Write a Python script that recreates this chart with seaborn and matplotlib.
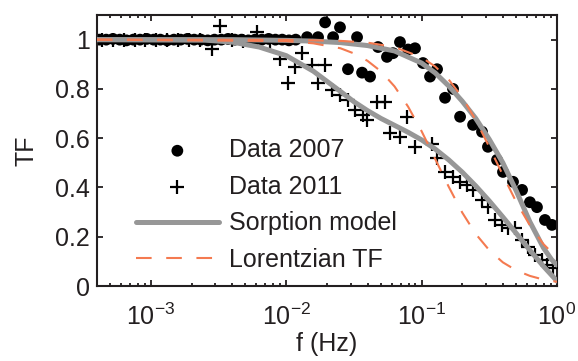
import numpy as np
import matplotlib
matplotlib.use('Agg')
from matplotlib import pyplot as plt
import seaborn as sns

# measured points, frequency stored as log10(f / Hz)
lf_2007 = [-3.38, -3.33, -3.28, -3.23, -3.18, -3.13, -3.08, -3.03, -2.98,
           -2.93, -2.88, -2.83, -2.78, -2.73, -2.68, -2.63, -2.58, -2.53,
           -2.48, -2.43, -2.38, -2.33, -2.28, -2.23, -2.18, -2.13, -2.08,
           -2.03, -1.98, -1.93,
           -1.846, -1.765, -1.713, -1.654, -1.603, -1.544, -1.477,
           -1.44, -1.381, -1.322, -1.256, -1.211, -1.16, -1.10, -1.049,
           -0.99, -0.938, -0.886, -0.827, -0.768, -0.716, -0.62, -0.554,
           -0.51, -0.443, -0.399, -0.325, -0.258, -0.2, -0.148, -0.089,
           -0.037]
tf_2007 = [1.0, 1.0, 1.003, 1.0, 0.997, 1.0, 1.0, 1.003, 1.0,
           1.0, 0.997, 1.0, 1.0, 1.003, 1.0, 1.0, 0.997, 1.0,
           1.0, 1.003, 1.0, 1.0, 0.997, 1.0, 1.0, 1.003, 1.0,
           1.0, 0.997, 1.0,
           1.01, 1.01, 1.07, 1.01, 1.05, 0.88, 1.01,
           0.866, 0.85, 0.97, 0.93, 0.945, 0.99, 0.96, 0.965,
           0.905, 0.85, 0.88, 0.764, 0.80, 0.687, 0.654, 0.626,
           0.565, 0.512, 0.463, 0.423, 0.39, 0.34, 0.32, 0.268,
           0.248]

lf_2011 = [-3.36, -3.28, -3.20, -3.12, -3.04, -2.96, -2.88, -2.80, -2.72,
           -2.64, -2.55, -2.49, -2.40, -2.32, -2.216, -2.12, -2.046, -1.987,
           -1.935, -1.883, -1.81, -1.765, -1.713, -1.662, -1.603, -1.544,
           -1.49, -1.43, -1.40, -1.33, -1.27, -1.23, -1.16, -1.108, -1.05,
           -0.923, -0.886, -0.827, -0.768, -0.716, -0.665, -0.62, -0.554,
           -0.51, -0.458, -0.406, -0.362, -0.31, -0.258, -0.214, -0.162,
           -0.111, -0.074, -0.03]
tf_2011 = [1.0, 1.0, 1.0, 1.0, 1.0, 1.0, 1.0, 1.0, 1.0,
           1.0, 0.96, 1.057, 1.0, 0.995, 1.03, 0.99, 0.92, 0.825,
           0.89, 0.947, 0.898, 0.825, 0.898, 0.797, 0.776, 0.756,
           0.715, 0.695, 0.675, 0.748, 0.748, 0.62, 0.606, 0.687, 0.563,
           0.577, 0.52, 0.463, 0.443, 0.423, 0.41, 0.39, 0.35,
           0.32, 0.268, 0.248, 0.236, 0.236, 0.187, 0.159, 0.126,
           0.106, 0.085, 0.073]

# model curves
lf_sorp_2007 = [-3.4, -2.4, -2.0, -1.8, -1.6, -1.4, -1.2, -1.0, -0.9, -0.8,
                -0.7, -0.6, -0.5, -0.4, -0.3, -0.2, -0.1, -0.04, 0.0]
tf_sorp_2007 = [1.0, 1.0, 0.997, 0.994, 0.988, 0.976, 0.954, 0.905, 0.865,
                0.812, 0.75, 0.68, 0.595, 0.50, 0.385, 0.26, 0.155, 0.107,
                0.085]

lf_sorp_2011 = [-3.4, -2.6, -2.4, -2.2, -2.0, -1.8, -1.6, -1.5, -1.4, -1.3,
                -1.2, -1.1, -1.0, -0.9, -0.8, -0.7, -0.6, -0.5, -0.4, -0.3,
                -0.2, -0.1, 0.0]
tf_sorp_2011 = [1.0, 0.998, 0.99, 0.97, 0.935, 0.872, 0.79, 0.748, 0.712,
                0.68, 0.652, 0.624, 0.593, 0.556, 0.512, 0.462, 0.406, 0.345,
                0.28, 0.213, 0.145, 0.08, 0.02]

lf_lor_2007 = [-3.4, -2.0, -1.6, -1.4, -1.2, -1.0, -0.9, -0.8, -0.7, -0.6,
               -0.5, -0.4, -0.3, -0.2, -0.1, 0.0]
tf_lor_2007 = [1.0, 0.999, 0.995, 0.988, 0.970, 0.928, 0.891, 0.838, 0.766,
               0.673, 0.564, 0.45, 0.34, 0.246, 0.17, 0.115]

lf_lor_2011 = [-3.4, -2.0, -1.8, -1.6, -1.5, -1.4, -1.3, -1.2, -1.1, -1.0,
               -0.9, -0.8, -0.7, -0.6, -0.5, -0.4, -0.3, -0.2, -0.1, 0.0]
tf_lor_2011 = [1.0, 0.994, 0.985, 0.965, 0.944, 0.914, 0.871, 0.81, 0.728,
               0.628, 0.516, 0.403, 0.298, 0.211, 0.145, 0.096, 0.063, 0.041,
               0.026, 0.017]

GRAY = '#979797'
ORANGE = '#f47a50'
INK = '#231f20'

sns.set_style('ticks')
plt.rcParams['font.family'] = ['Liberation Sans', 'DejaVu Sans']
plt.rcParams['font.size'] = 18
plt.rcParams['text.color'] = INK
plt.rcParams['axes.labelcolor'] = INK
plt.rcParams['xtick.color'] = INK
plt.rcParams['ytick.color'] = INK
plt.rcParams['axes.edgecolor'] = INK

fig = plt.figure(figsize=(5.78, 3.61), dpi=100)
ax = fig.add_axes([97 / 578, 1 - 286 / 361, 460 / 578, 271 / 361])
ax.set_xscale('log')

sns.scatterplot(x=10 ** np.array(lf_2007), y=tf_2007, ax=ax, color='k',
                marker='o', s=72, edgecolor='none', label='Data 2007',
                zorder=2)
sns.scatterplot(x=10 ** np.array(lf_2011), y=tf_2011, ax=ax, color='k',
                marker='+', s=95, linewidth=1.6, label='Data 2011', zorder=3)
sns.lineplot(x=10 ** np.array(lf_sorp_2007), y=tf_sorp_2007, ax=ax,
             color=GRAY, lw=3.6, label='Sorption model', zorder=4)
sns.lineplot(x=10 ** np.array(lf_sorp_2011), y=tf_sorp_2011, ax=ax,
             color=GRAY, lw=3.6, zorder=4)
sns.lineplot(x=10 ** np.array(lf_lor_2007), y=tf_lor_2007, ax=ax,
             color=ORANGE, lw=1.5, linestyle=(0, (7.5, 7)),
             label='Lorentzian TF', zorder=5)
sns.lineplot(x=10 ** np.array(lf_lor_2011), y=tf_lor_2011, ax=ax,
             color=ORANGE, lw=1.5, linestyle=(0, (7.5, 7)), zorder=5)

ax.set_xlim(4e-4, 1)
ax.set_ylim(0, 1.1)
ax.set_yticks([0, 0.2, 0.4, 0.6, 0.8, 1])
ax.set_yticklabels(['0', '0.2', '0.4', '0.6', '0.8', '1'])
ax.set_xlabel('f (Hz)', labelpad=1)
ax.set_ylabel('TF', labelpad=12)

for side in ['top', 'right', 'left', 'bottom']:
    ax.spines[side].set_visible(True)
    ax.spines[side].set_linewidth(1.5)
ax.tick_params(which='both', direction='in', top=True, right=True,
               width=1.3)
ax.tick_params(which='major', length=4)
ax.tick_params(which='minor', length=2.3)
ax.tick_params(axis='x', which='major', pad=13)
ax.tick_params(axis='y', which='major', pad=5)

ax.legend(loc='upper left', bbox_to_anchor=(0.085, 0.545), frameon=False,
          handlelength=3.3, handletextpad=0.4, labelspacing=0.5,
          borderpad=0, borderaxespad=0, scatterpoints=1)

fig.savefig('out.png', dpi=100)
plt.close()
